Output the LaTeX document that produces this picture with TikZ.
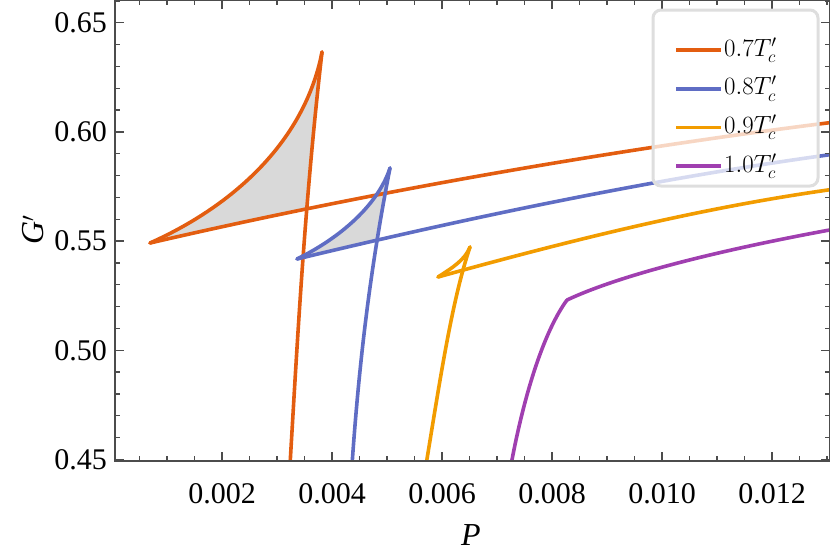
\documentclass[tikz,border=0pt]{standalone}
\usepackage{fontspec}
\setmainfont{Liberation Serif}
\begin{document}
\begin{tikzpicture}[x=1pt,y=-1pt,
  curve/.style={line width=3.6pt,line join=round,line cap=round},
  ticklab/.style={font=\fontsize{30}{36}\selectfont,inner sep=0pt},
  axis/.style={draw=black!70,line width=1.3pt}]
\definecolor{corange}{HTML}{E35D10}
\definecolor{cblue}{HTML}{5F6DC4}
\definecolor{cyellow}{HTML}{F29C00}
\definecolor{cpurple}{HTML}{A03FB0}
\useasboundingbox (0,0) rectangle (830,552);
% fills
\begin{scope}
\clip (150,243) .. controls (400,185) and (650,145) .. (835,122) -- (835,0) -- (0,0) -- (0,243) -- cycle;
\clip (0,0) -- (322,0) -- (322,52) .. controls (305,200) and (298,330) .. (290,465) -- (0,465) -- cycle;
\fill[black!15] (150,243) .. controls (235,205) and (305,140) .. (322,52) -- (322,300) -- (150,300) -- cycle;
\end{scope}
\begin{scope}
\clip (297,259) .. controls (500,210) and (680,175) .. (835,154) -- (835,0) -- (0,0) -- (0,259) -- cycle;
\clip (0,0) -- (390,0) -- (390,168) .. controls (372,260) and (360,350) .. (352,465) -- (0,465) -- cycle;
\fill[black!15] (297,259) .. controls (340,238) and (378,205) .. (390,168) -- (390,300) -- (297,300) -- cycle;
\end{scope}
\begin{scope}
\clip (115,0) rectangle (830,461);
% orange
\draw[curve,corange] (150,243) .. controls (235,205) and (305,140) .. (322,52);
\draw[curve,corange] (322,52) .. controls (305,200) and (298,330) .. (290,465);
\draw[curve,corange] (150,243) .. controls (400,185) and (650,145) .. (835,122);
% blue
\draw[curve,cblue] (297,259) .. controls (340,238) and (378,205) .. (390,168);
\draw[curve,cblue] (390,168) .. controls (372,260) and (360,350) .. (352,465);
\draw[curve,cblue] (297,259) .. controls (500,210) and (680,175) .. (835,154);
% yellow
\draw[curve,cyellow] (438,277) .. controls (452,268) and (465,260) .. (470,247);
\draw[curve,cyellow] (470,247) .. controls (452,300) and (440,380) .. (426,465);
\draw[curve,cyellow] (438,277) .. controls (600,232) and (720,205) .. (835,189);
% purple
\draw[curve,cpurple] (511,465) .. controls (525,390) and (545,330) .. (567,300);
\draw[curve,cpurple] (567,300) .. controls (620,275) and (720,250) .. (835,229);
\end{scope}
% frame and ticks
\draw[axis] (115,0) rectangle (829.5,461);
\foreach \k in {1,...,26}{
  \pgfmathsetmacro{\xx}{112+27.5*\k}
  \pgfmathsetmacro{\len}{mod(\k,4)==0 ? 9 : 5}
  \ifdim\xx pt<829pt
  \draw[axis] (\xx,461) -- ++(0,-\len);
  \draw[axis] (\xx,0) -- ++(0,\len);
  \fi}
\foreach \k in {0,...,21}{
  \pgfmathsetmacro{\yy}{459.5-21.84*\k}
  \pgfmathsetmacro{\len}{mod(\k,5)==0 ? 9 : 5}
  \draw[axis] (115,\yy) -- ++(\len,0);
  \draw[axis] (829.5,\yy) -- ++(-\len,0);}
\foreach \v/\lab in {1/0.002,2/0.004,3/0.006,4/0.008,5/0.010,6/0.012}
  \node[ticklab] (xl\v) at (112+110*\v,494) {\lab};
\foreach \v/\lab in {0/0.45,1/0.50,2/0.55,3/0.60,4/0.65}
  \node[ticklab,anchor=east] (yl\v) at (107,459.5-109.2*\v) {\lab};
\node[font=\fontsize{32}{36}\selectfont\itshape] (xlab) at (471,535) {P};
\node[font=\fontsize{32}{36}\selectfont,rotate=90] (ylab) at (33,230) {\textit{G}$'$};
% legend
\draw[draw=black!13,line width=3pt,fill=white,fill opacity=0.75,rounded corners=8pt] (653,10) rectangle (818,186);
\foreach \i/\c/\t in {0/corange/0.7,1/cblue/0.8,2/cyellow/0.9,3/cpurple/1.0}{
  \draw[line width=3.6pt,\c] (676,50+38.7*\i) -- (721,50+38.7*\i);
  \node[anchor=west,inner sep=0pt,font=\fontsize{26}{30}\selectfont] (lg\i) at (724,50+38.7*\i) {$\t T_c'$};}
\end{tikzpicture}
\end{document}
